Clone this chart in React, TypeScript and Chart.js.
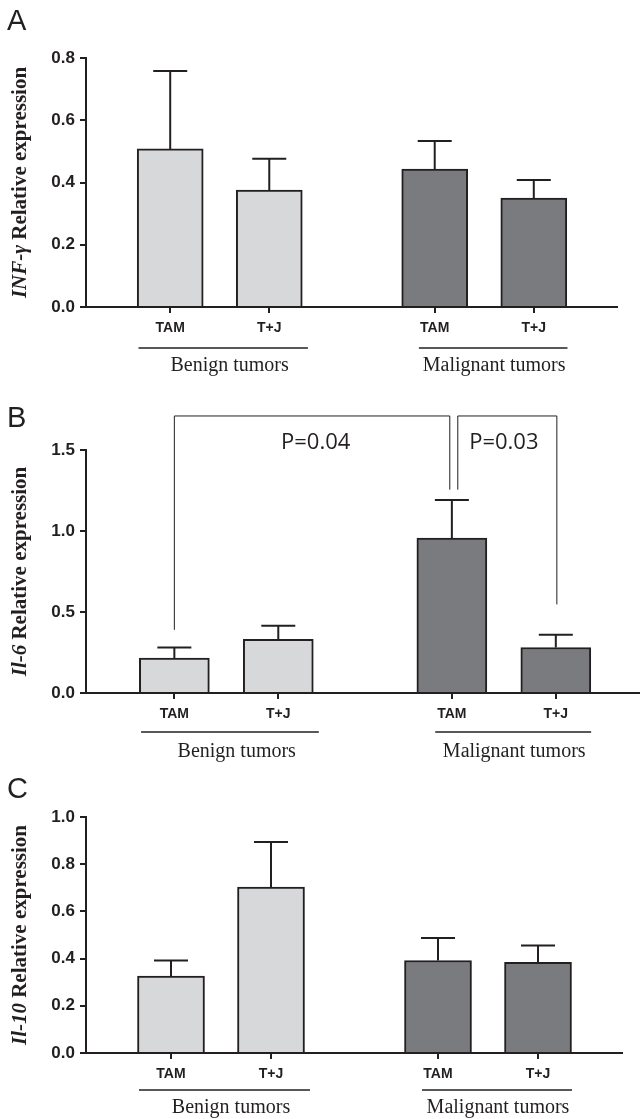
import React, { useEffect, useRef } from "react";
import { Chart, registerables } from "chart.js";

Chart.register(...registerables);

// ---------- data ----------
const categories = ["TAM", "T+J", "TAM", "T+J"];
const xPositions = [0.85, 1.85, 3.52, 4.52];
const groupNames = ["Benign tumors", "Malignant tumors"];
const groupSpans = [
  [0.53, 2.24],
  [3.36, 4.86],
];
const groupLabelCenters = [1.45, 4.12];

const infMeans = [0.508, 0.376, 0.443, 0.35];
const infSems = [0.25, 0.1, 0.09, 0.058];
const infTicks = [0, 0.2, 0.4, 0.6, 0.8];

const il6Means = [0.216, 0.331, 0.957, 0.281];
const il6Sems = [0.065, 0.084, 0.234, 0.079];
const il6Ticks = [0, 0.5, 1.0, 1.5];

const il10Means = [0.326, 0.703, 0.392, 0.384];
const il10Sems = [0.066, 0.191, 0.095, 0.072];
const il10Ticks = [0, 0.2, 0.4, 0.6, 0.8, 1.0];

// significance brackets for panel B
const il6Brackets = [
  { x1: 0.85, y1: 0.39, top: 1.71, x2: 3.5, y2: 1.255, label: "P=0.04", lx: 2.21, ly: 1.545 },
  { x1: 3.577, y1: 1.255, top: 1.71, x2: 4.53, y2: 0.547, label: "P=0.03", lx: 4.02, ly: 1.545 },
];

const INK = "#231f20";
const LIGHT = "#d7d8da";
const DARK = "#7a7b7f";
const barColors = [LIGHT, LIGHT, DARK, DARK];

type Bracket = { x1: number; y1: number; top: number; x2: number; y2: number; label: string; lx: number; ly: number };

type PanelProps = {
  letter: string;
  letterBaseline: number;
  titleItalic: string;
  means: number[];
  sems: number[];
  ticks: number[];
  top: number;
  height: number;
  padTop: number;
  padRight: number;
  axisH: number;
  xMax: number;
  barThickness: number;
  groupLineOff: number;
  groupTextOff: number;
  brackets?: Bracket[];
};

function Panel(p: PanelProps) {
  const ref = useRef<HTMLCanvasElement | null>(null);
  useEffect(() => {
    if (!ref.current) return;
    const yMax = p.ticks[p.ticks.length - 1];
    const yStep = p.ticks[1] - p.ticks[0];

    const overlay = {
      id: "overlay" + p.letter,
      beforeDatasetsDraw(chart: any) {
        const ctx = chart.ctx;
        const xs = chart.scales.x;
        const ys = chart.scales.y;
        ctx.save();
        ctx.strokeStyle = INK;
        ctx.lineWidth = 2;
        p.means.forEach((m, i) => {
          const cx = xs.getPixelForValue(xPositions[i]);
          const yTop = ys.getPixelForValue(m + p.sems[i]);
          const yBar = ys.getPixelForValue(m);
          ctx.beginPath();
          ctx.moveTo(cx, yBar);
          ctx.lineTo(cx, yTop);
          ctx.moveTo(cx - 17, yTop);
          ctx.lineTo(cx + 17, yTop);
          ctx.stroke();
        });
        ctx.restore();
      },
      afterDraw(chart: any) {
        const ctx = chart.ctx;
        const xs = chart.scales.x;
        const ys = chart.scales.y;
        const area = chart.chartArea;
        ctx.save();
        // group lines and labels
        ctx.strokeStyle = INK;
        ctx.lineWidth = 1.3;
        ctx.fillStyle = INK;
        ctx.font = '20px "Liberation Serif", "Times New Roman", serif';
        ctx.textAlign = "center";
        ctx.textBaseline = "middle";
        groupNames.forEach((g, i) => {
          const ly = area.bottom + p.groupLineOff;
          ctx.beginPath();
          ctx.moveTo(xs.getPixelForValue(groupSpans[i][0]), ly);
          ctx.lineTo(xs.getPixelForValue(groupSpans[i][1]), ly);
          ctx.stroke();
          ctx.fillText(g, xs.getPixelForValue(groupLabelCenters[i]), area.bottom + p.groupTextOff);
        });
        // y-axis title
        const fItal = 'italic bold 21px "Liberation Serif", "Times New Roman", serif';
        const fBold = 'bold 21px "Liberation Serif", "Times New Roman", serif';
        const rest = " Relative expression";
        ctx.font = fItal;
        const w1 = ctx.measureText(p.titleItalic).width;
        ctx.font = fBold;
        const w2 = ctx.measureText(rest).width;
        const total = w1 + w2;
        ctx.translate(21, (area.top + area.bottom) / 2);
        ctx.rotate(-Math.PI / 2);
        ctx.textAlign = "left";
        ctx.textBaseline = "middle";
        ctx.font = fItal;
        ctx.fillText(p.titleItalic, -total / 2, 0);
        ctx.font = fBold;
        ctx.fillText(rest, -total / 2 + w1, 0);
        ctx.setTransform(1, 0, 0, 1, 0, 0);
        // panel letter
        ctx.font = '29px "Liberation Sans", Arial, sans-serif';
        ctx.textAlign = "left";
        ctx.textBaseline = "alphabetic";
        ctx.fillText(p.letter, 7, p.letterBaseline);
        // brackets
        if (p.brackets) {
          ctx.lineWidth = 1;
          p.brackets.forEach((b) => {
            ctx.beginPath();
            ctx.moveTo(xs.getPixelForValue(b.x1), ys.getPixelForValue(b.y1));
            ctx.lineTo(xs.getPixelForValue(b.x1), ys.getPixelForValue(b.top));
            ctx.lineTo(xs.getPixelForValue(b.x2), ys.getPixelForValue(b.top));
            ctx.lineTo(xs.getPixelForValue(b.x2), ys.getPixelForValue(b.y2));
            ctx.stroke();
            ctx.font = '22px "Open Sans", "Noto Sans", sans-serif';
            ctx.textAlign = "center";
            ctx.textBaseline = "middle";
            ctx.fillText(b.label, xs.getPixelForValue(b.lx), ys.getPixelForValue(b.ly));
          });
        }
        ctx.restore();
      },
    };

    const chart = new Chart(ref.current, {
      type: "bar",
      data: {
        datasets: [
          {
            data: p.means.map((m, i) => ({ x: xPositions[i], y: m })),
            backgroundColor: barColors,
            borderColor: INK,
            borderWidth: 2,
            borderSkipped: "bottom",
            barThickness: p.barThickness,
          } as any,
        ],
      },
      options: {
        animation: false,
        responsive: false,
        devicePixelRatio: 1,
        layout: { padding: { top: p.padTop, right: p.padRight, bottom: 0, left: 0 } },
        plugins: { legend: { display: false }, tooltip: { enabled: false } },
        scales: {
          x: {
            type: "linear",
            offset: false,
            min: 0,
            max: p.xMax,
            afterBuildTicks: (s: any) => {
              s.ticks = xPositions.map((v) => ({ value: v }));
            },
            afterFit: (s: any) => {
              s.height = p.axisH;
            },
            border: { color: INK, width: 2 },
            grid: { offset: false, drawOnChartArea: false, drawTicks: true, tickLength: 6, color: INK, lineWidth: 2 },
            ticks: {
              autoSkip: false,
              maxRotation: 0,
              padding: 7,
              color: INK,
              font: { family: '"Liberation Sans", Arial, sans-serif', size: 14, weight: "bold" },
              callback: (_v: any, i: number) => categories[i],
            },
          },
          y: {
            min: 0,
            max: yMax,
            afterFit: (s: any) => {
              s.width = 86;
            },
            afterBuildTicks: (s: any) => {
              s.ticks = p.ticks.map((v) => ({ value: v }));
            },
            border: { color: INK, width: 2 },
            grid: { drawOnChartArea: false, drawTicks: true, tickLength: 6, color: INK, lineWidth: 2 },
            ticks: {
              stepSize: yStep,
              padding: 5,
              color: INK,
              font: { family: '"Liberation Sans", Arial, sans-serif', size: 17, weight: "bold" },
              callback: (v: any) => Number(v).toFixed(1),
            },
          },
        },
      },
      plugins: [overlay],
    });
    return () => chart.destroy();
  }, []);
  return (
    <div style={{ position: "absolute", left: 0, top: p.top, width: 640, height: p.height }}>
      <canvas ref={ref} width={640} height={p.height} style={{ display: "block" }} />
    </div>
  );
}

export default function App() {
  return (
    <div style={{ position: "absolute", left: 0, top: 0, width: 640, height: 1119, background: "#fff" }}>
      <Panel
        letter="A"
        letterBaseline={30}
        titleItalic="INF-γ"
        means={infMeans}
        sems={infSems}
        ticks={infTicks}
        top={0}
        height={385}
        padTop={58}
        padRight={23}
        axisH={78}
        xMax={5.36}
        barThickness={66}
        groupLineOff={41}
        groupTextOff={59}
      />
      <Panel
        letter="B"
        letterBaseline={42}
        titleItalic="Il-6"
        means={il6Means}
        sems={il6Sems}
        ticks={il6Ticks}
        top={385}
        height={380}
        padTop={65}
        padRight={0}
        axisH={72}
        xMax={5.33}
        barThickness={70}
        groupLineOff={39}
        groupTextOff={59}
        brackets={il6Brackets}
      />
      <Panel
        letter="C"
        letterBaseline={33}
        titleItalic="Il-10"
        means={il10Means}
        sems={il10Sems}
        ticks={il10Ticks}
        top={765}
        height={354}
        padTop={52}
        padRight={18}
        axisH={66}
        xMax={5.36}
        barThickness={67}
        groupLineOff={37}
        groupTextOff={55}
      />
    </div>
  );
}
